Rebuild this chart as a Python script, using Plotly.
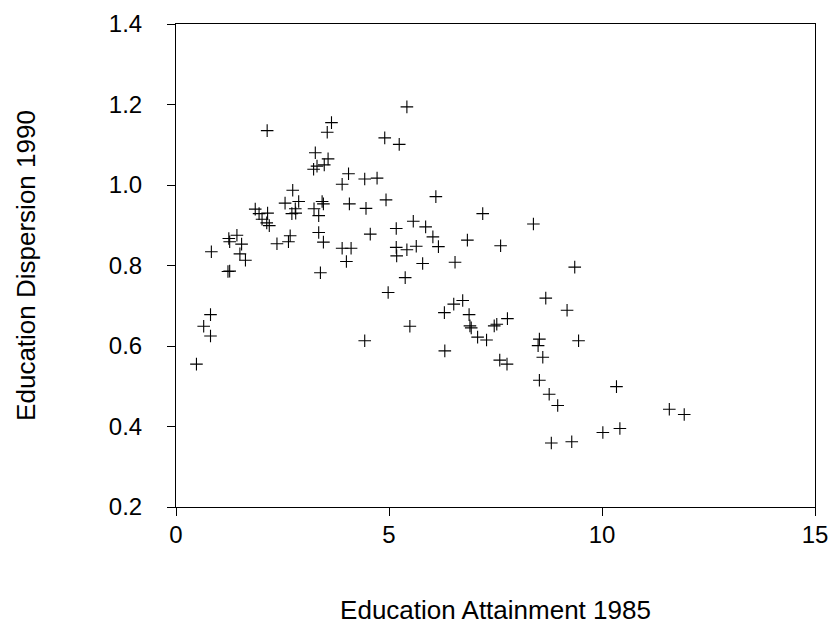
import plotly.graph_objects as go

attainment_1985 = [
    2.14, 3.65, 3.55, 4.90, 3.27, 3.57, 3.48, 3.31, 3.23, 4.05,
    3.90, 4.43, 4.72, 4.93, 2.74, 2.56, 2.88, 2.80, 2.72, 2.81,
    1.86, 1.95, 2.15, 2.02, 2.13, 2.19, 3.24, 3.43, 3.46, 3.35,
    4.07, 4.46, 1.43, 1.24, 1.26, 1.54, 1.50, 1.63, 0.83, 2.37,
    2.68, 2.64, 3.35, 3.46, 4.56, 3.90, 4.11, 4.00, 1.26, 1.22,
    3.39, 4.98, 0.81, 0.65, 0.81, 0.48, 4.43, 5.42, 5.24, 6.10,
    7.20, 8.39, 5.17, 5.57, 5.86, 6.03, 6.16, 6.84, 7.62, 5.17,
    5.42, 5.64, 5.18, 5.79, 6.55, 9.36, 5.38, 8.68, 9.18, 6.73,
    6.52, 6.30, 6.88, 7.78, 7.53, 7.47, 6.90, 6.93, 5.49, 7.08,
    7.29, 8.53, 8.50, 9.45, 6.31, 7.60, 7.77, 8.61, 8.53, 8.76,
    8.96, 8.81, 9.29, 10.34, 11.58, 11.93, 10.02, 10.42,
]
dispersion_1990 = [
    1.135, 1.155, 1.131, 1.117, 1.080, 1.065, 1.050, 1.047, 1.039, 1.028,
    1.002, 1.015, 1.017, 0.963, 0.987, 0.955, 0.959, 0.941, 0.929, 0.930,
    0.940, 0.929, 0.930, 0.915, 0.906, 0.899, 0.941, 0.959, 0.953, 0.924,
    0.953, 0.942, 0.875, 0.867, 0.859, 0.853, 0.829, 0.813, 0.834, 0.854,
    0.874, 0.859, 0.882, 0.858, 0.878, 0.843, 0.843, 0.810, 0.786, 0.785,
    0.782, 0.733, 0.678, 0.649, 0.625, 0.555, 0.613, 1.194, 1.101, 0.971,
    0.929, 0.903, 0.892, 0.910, 0.896, 0.871, 0.847, 0.863, 0.849, 0.845,
    0.839, 0.848, 0.824, 0.805, 0.808, 0.796, 0.770, 0.719, 0.689, 0.713,
    0.704, 0.683, 0.678, 0.668, 0.654, 0.650, 0.650, 0.645, 0.649, 0.622,
    0.615, 0.617, 0.601, 0.613, 0.588, 0.565, 0.555, 0.572, 0.515, 0.480,
    0.452, 0.359, 0.362, 0.499, 0.443, 0.430, 0.385, 0.395,
]

x_ticks = [0, 5, 10, 15]
y_ticks = [0.2, 0.4, 0.6, 0.8, 1.0, 1.2, 1.4]
y_tick_text = ["0.2", "0.4", "0.6", "0.8", "1.0", "1.2", "1.4"]

fig = go.Figure(
    go.Scatter(
        x=attainment_1985,
        y=dispersion_1990,
        mode="markers",
        marker=dict(symbol="cross-thin-open", size=9, color="black",
                    line=dict(color="black", width=1.1)),
        showlegend=False,
        cliponaxis=False,
        hoverinfo="skip",
    )
)

tick_font = dict(family="Liberation Sans, Arial, sans-serif", size=24, color="black")
title_font = dict(family="Liberation Sans, Arial, sans-serif", size=26, color="black")

fig.update_layout(
    width=828, height=628,
    margin=dict(l=176, r=13, t=24, b=121),
    paper_bgcolor="white", plot_bgcolor="white",
    font=tick_font,
)
fig.update_xaxes(
    range=[0, 15], tickvals=x_ticks, ticks="outside", ticklen=8,
    tickcolor="black", showline=True, linecolor="black", linewidth=1,
    mirror=True, showgrid=False, zeroline=False, automargin=False,
    tickfont=tick_font, ticklabelstandoff=-2, ticklabeloverflow="allow",
    title=dict(text="Education Attainment 1985", standoff=54, font=title_font),
)
fig.update_yaxes(
    range=[0.2, 1.4], tickvals=y_ticks, ticktext=y_tick_text, ticks="outside",
    ticklen=8, tickcolor="black", showline=True, linecolor="black", linewidth=1,
    mirror=True, showgrid=False, zeroline=False, automargin=False,
    tickfont=tick_font, ticklabelstandoff=20, ticklabeloverflow="allow",
    title=dict(text="Education Dispersion 1990", standoff=65, font=title_font),
)

fig.write_html(
    "out.html",
    config={"displayModeBar": False},
    post_script="document.body.style.margin='0';document.body.style.overflow='hidden';",
)
